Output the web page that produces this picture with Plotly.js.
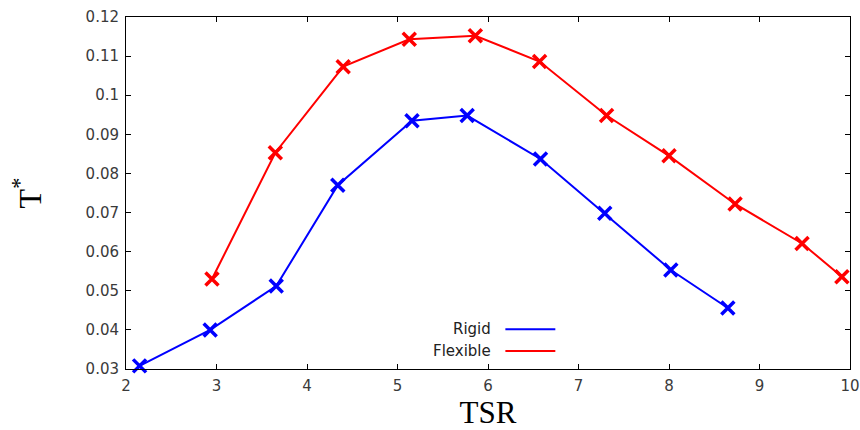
<!DOCTYPE html>
<html>
<head>
<meta charset="utf-8">
<script src="https://cdn.plot.ly/plotly-3.0.1.min.js"></script>
<style>
  html, body { margin: 0; padding: 0; background: #fff; }
  #chart { width: 860px; height: 430px; }
</style>
</head>
<body>
<div id="chart"></div>
<script>
// Thrust coefficient T* against tip speed ratio, rigid vs flexible blades
const rigidTSR = [2.15, 2.93, 3.66, 4.34, 5.16, 5.77, 6.58, 7.29, 8.02, 8.65];
const rigidT = [0.0308, 0.0400, 0.0512, 0.0770, 0.0935, 0.0948, 0.0837, 0.0698, 0.0553, 0.0456];

const flexTSR = [2.95, 3.65, 4.40, 5.13, 5.86, 6.57, 7.31, 8.00, 8.73, 9.47, 9.91];
const flexT = [0.0530, 0.0853, 0.1073, 0.1143, 0.1152, 0.1086, 0.0948, 0.0845, 0.0722, 0.0621, 0.0536];

const seriesNames = ['Rigid', 'Flexible'];
const seriesColors = ['#0000ff', '#ff0000'];

const xTicks = [2, 3, 4, 5, 6, 7, 8, 9, 10];
const yTicks = [0.03, 0.04, 0.05, 0.06, 0.07, 0.08, 0.09, 0.1, 0.11, 0.12];

function series(x, y, i) {
  return {
    x: x, y: y, name: seriesNames[i], type: 'scatter', mode: 'lines+markers',
    line: { color: seriesColors[i], width: 2 },
    marker: { symbol: 'x-thin-open', size: 13, color: seriesColors[i],
              line: { color: seriesColors[i], width: 3.5 } },
    cliponaxis: false
  };
}

const tickFont = { family: 'DejaVu Sans, sans-serif', size: 15, color: '#3a3a3a' };

const axisCommon = {
  showgrid: false, zeroline: false, showline: true, linecolor: '#000', linewidth: 1,
  mirror: 'ticks', ticks: 'inside', ticklen: 5, tickcolor: '#000', tickwidth: 1,
  tickfont: tickFont
};

// Legend drawn as right-aligned labels with short line samples after them
const legendRows = [0.113, 0.051];
const annotations = seriesNames.map((n, i) => ({
  xref: 'paper', yref: 'paper', x: 0.507, y: legendRows[i],
  xanchor: 'right', yanchor: 'middle', text: n, showarrow: false,
  font: { family: 'DejaVu Sans, sans-serif', size: 15, color: '#222' }
}));
const shapes = seriesNames.map((n, i) => ({
  type: 'line', xref: 'paper', yref: 'paper',
  x0: 0.524, x1: 0.593, y0: legendRows[i], y1: legendRows[i],
  line: { color: seriesColors[i], width: 2 }
}));

const layout = {
  width: 860, height: 430,
  margin: { l: 126, r: 10, t: 17, b: 61 },
  paper_bgcolor: '#fff', plot_bgcolor: '#fff',
  showlegend: false,
  xaxis: Object.assign({}, axisCommon, {
    range: [2, 10], tickvals: xTicks, ticktext: xTicks.map(String),
    ticklabelstandoff: 3,
    title: { text: 'TSR', font: { family: 'Liberation Serif, serif', size: 31, color: '#000' }, standoff: 7 }
  }),
  yaxis: Object.assign({}, axisCommon, {
    range: [0.03, 0.12], tickvals: yTicks, ticktext: yTicks.map(v => String(+v.toFixed(2))),
    ticklabelstandoff: 3,
    title: { text: 'T<sup>*</sup>', font: { family: 'Liberation Serif, serif', size: 32, color: '#000' }, standoff: 34 }
  }),
  annotations: annotations,
  shapes: shapes
};

Plotly.newPlot('chart', [series(rigidTSR, rigidT, 0), series(flexTSR, flexT, 1)], layout,
  { displayModeBar: false, staticPlot: true });
</script>
</body>
</html>
